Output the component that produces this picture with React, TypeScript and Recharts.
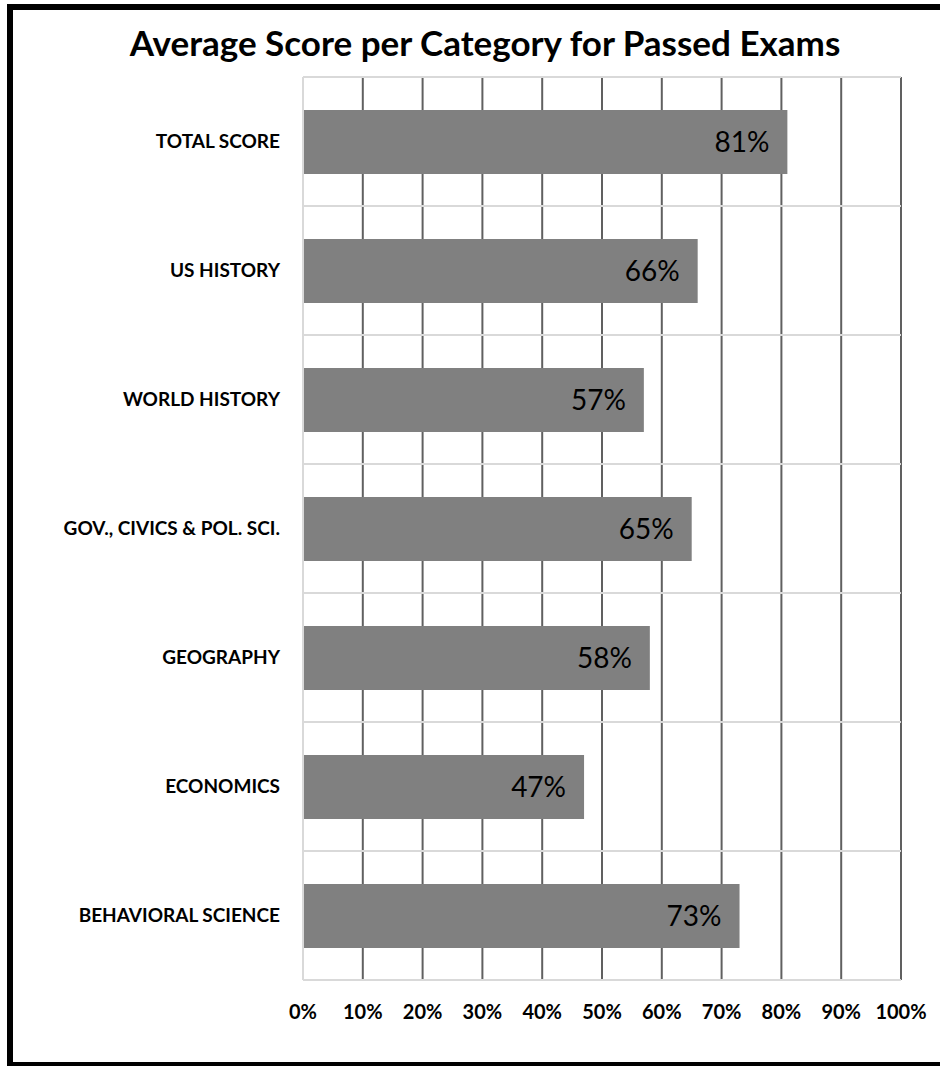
import { Bar, BarChart, CartesianGrid, LabelList, XAxis, YAxis } from "recharts";

const categories = [
  "TOTAL SCORE",
  "US HISTORY",
  "WORLD HISTORY",
  "GOV., CIVICS & POL. SCI.",
  "GEOGRAPHY",
  "ECONOMICS",
  "BEHAVIORAL SCIENCE"
];
const scores = [81, 66, 57, 65, 58, 47, 73];
const xTicks = [0, 10, 20, 30, 40, 50, 60, 70, 80, 90, 100];

const data = categories.map((category, i) => ({ category, score: scores[i] }));

const font = "Lato, 'Open Sans', sans-serif";

// lines on the band edges between categories, not through their centres
const bandEdges = ({ offset }: any) => {
  const step = offset.height / categories.length;
  return Array.from({ length: categories.length + 1 }, (_, i) => offset.top + i * step);
};

export default function App() {
  return (
    <div
      style={{
        position: "absolute",
        left: 0,
        top: 0,
        width: 940,
        height: 1066,
        overflow: "hidden",
        background: "#fff",
        fontFamily: font
      }}
    >
      <div
        style={{
          position: "absolute",
          left: 0,
          top: 21,
          width: 970,
          textAlign: "center",
          fontSize: 35,
          lineHeight: "42px",
          fontWeight: 700,
          color: "#000"
        }}
      >
        Average Score per Category for Passed Exams
      </div>

      <BarChart
        width={940}
        height={1066}
        data={data}
        layout="vertical"
        margin={{ top: 77, right: 39, bottom: 46, left: 0 }}
      >
        <CartesianGrid horizontal={false} vertical stroke="#606060" strokeWidth={2} />
        <CartesianGrid
          horizontal
          vertical={false}
          horizontalCoordinatesGenerator={bandEdges}
          stroke="#d9d9d9"
          strokeWidth={2}
        />
        <XAxis
          type="number"
          domain={[0, 100]}
          ticks={xTicks}
          tickFormatter={(v) => `${v}%`}
          height={40}
          tickSize={0}
          tickMargin={25}
          axisLine={false}
          tickLine={false}
          interval={0}
          tick={{ fontSize: 20, fontWeight: 700, fill: "#000", fontFamily: font }}
        />
        <YAxis
          type="category"
          dataKey="category"
          width={303}
          tickSize={0}
          tickMargin={23}
          tickLine={false}
          axisLine={{ stroke: "#d9d9d9", strokeWidth: 2 }}
          interval={0}
          tick={{ fontSize: 19, fontWeight: 700, fill: "#000", fontFamily: font }}
        />
        <Bar dataKey="score" fill="#808080" barSize={64} isAnimationActive={false}>
          <LabelList
            dataKey="score"
            position="insideRight"
            offset={18}
            formatter={(v: number) => `${v}%`}
            style={{ fontSize: 28, fill: "#000", fontFamily: font }}
          />
        </Bar>
      </BarChart>

      <div
        style={{
          position: "absolute",
          left: 7,
          top: 4,
          width: 1000,
          height: 1064,
          boxSizing: "border-box",
          border: "6px solid #000",
          pointerEvents: "none"
        }}
      />
    </div>
  );
}
